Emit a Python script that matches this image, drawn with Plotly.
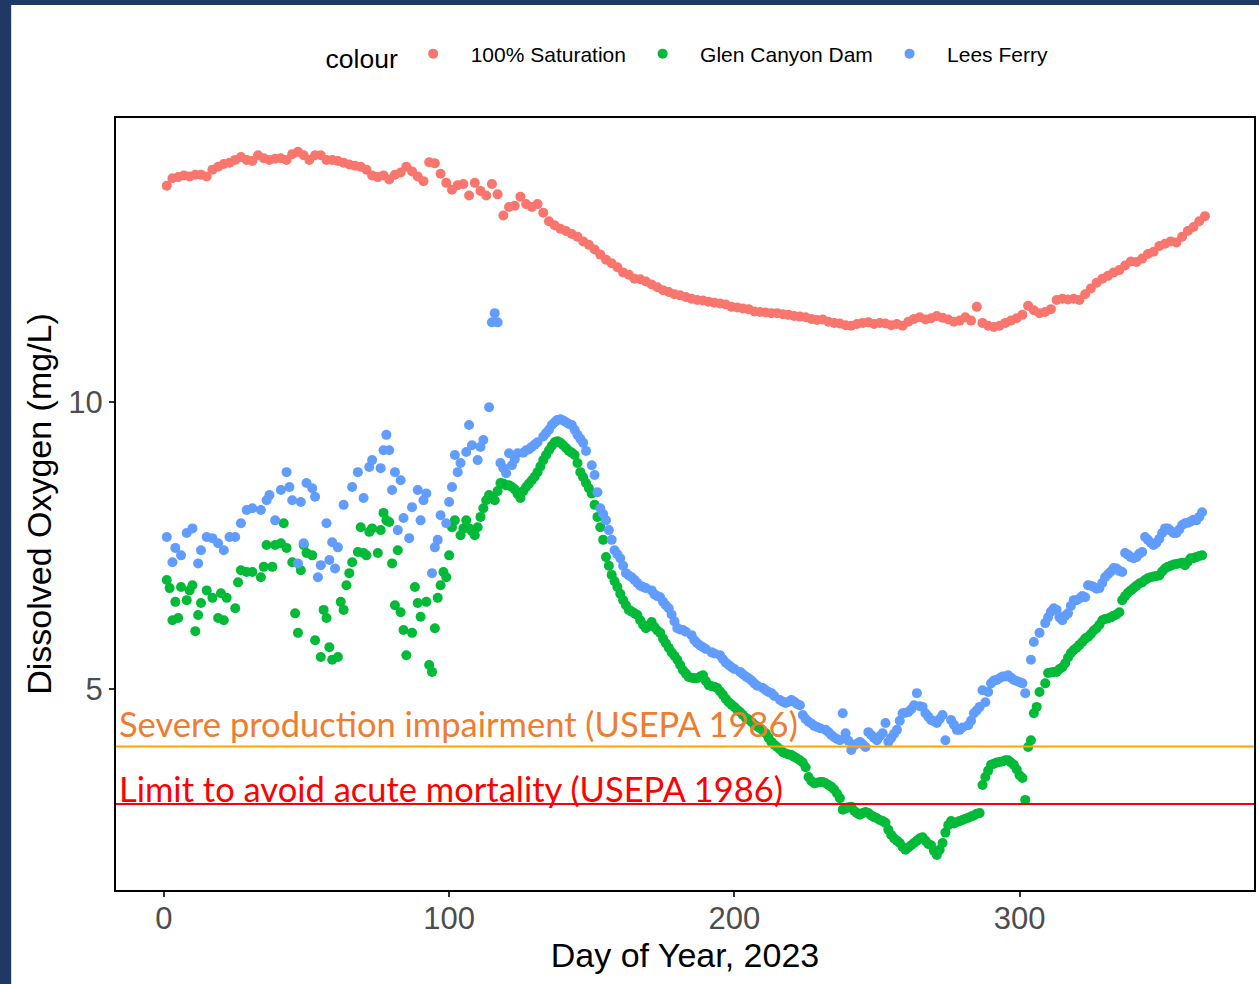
import plotly.graph_objects as go

# 100% saturation, every other day
sat_day = list(range(1, 366, 2))
sat_do = [
    13.77, 13.90, 13.92, 13.95, 13.93, 13.96, 13.96, 13.93, 14.05, 14.10,
    14.15, 14.17, 14.22, 14.27, 14.22, 14.20, 14.30, 14.25, 14.22, 14.24,
    14.25, 14.22, 14.32, 14.36, 14.30, 14.22, 14.30, 14.30, 14.22, 14.22,
    14.20, 14.17, 14.14, 14.12, 14.10, 14.05, 13.95, 13.92, 13.95, 13.88,
    13.96, 14.00, 14.10, 14.02, 13.93, 13.85, 14.18, 14.16, 13.98, 13.82,
    13.70, 13.78, 13.80, 13.60, 13.82, 13.68, 13.60, 13.80, 13.62, 13.25,
    13.40, 13.42, 13.58, 13.45, 13.40, 13.45, 13.30, 13.15, 13.08, 13.02,
    12.98, 12.93, 12.88, 12.80, 12.74, 12.66, 12.57, 12.48, 12.42, 12.35,
    12.26, 12.22, 12.15, 12.14, 12.10, 12.05, 12.00, 11.95, 11.92, 11.88,
    11.86, 11.83, 11.80, 11.78, 11.77, 11.75, 11.73, 11.72, 11.70, 11.66,
    11.65, 11.63, 11.62, 11.58, 11.57, 11.56, 11.55, 11.55, 11.53, 11.52,
    11.50, 11.49, 11.48, 11.45, 11.43, 11.44, 11.40, 11.38, 11.37, 11.34,
    11.33, 11.36, 11.38, 11.39, 11.36, 11.38, 11.37, 11.34, 11.36, 11.33,
    11.40, 11.45, 11.48, 11.44, 11.46, 11.50, 11.47, 11.44, 11.40, 11.42,
    11.48, 11.42, 11.66, 11.38, 11.33, 11.31, 11.33, 11.38, 11.42, 11.46,
    11.52, 11.68, 11.60, 11.55, 11.57, 11.62, 11.78, 11.80, 11.79, 11.80,
    11.78, 11.88, 11.98, 12.08, 12.15, 12.20, 12.26, 12.30, 12.38, 12.45,
    12.44, 12.50, 12.58, 12.62, 12.72, 12.76, 12.80, 12.78, 12.88, 12.98,
    13.05, 13.15, 13.24,
]

# Glen Canyon Dam
gcd_day = [
    1, 2, 3, 4, 5, 6, 8, 9, 10, 11, 12, 13, 15, 17, 19, 20, 21, 22, 25, 26,
    27, 29, 31, 34, 35, 36, 38, 39, 41, 42, 43, 45, 46, 47, 48, 49, 50, 52, 53, 55,
    56, 57, 58, 59, 61, 62, 63, 64, 65, 66, 68, 69, 70, 71, 72, 73, 75, 76, 77, 78,
    79, 80, 81, 82, 83, 84, 85, 87, 88, 89, 90, 92, 93, 94, 95, 96, 97, 98, 99, 100,
    101, 102, 104, 105, 106, 107, 108, 109, 110, 111, 112, 113, 114, 115, 116, 117, 118, 119, 120, 121,
    122, 123, 124, 125, 126, 127, 128, 129, 130, 131, 132, 133, 134, 135, 136, 137, 138, 139, 140, 141,
    142, 143, 144, 145, 146, 147, 148, 149, 150, 151, 152, 153, 154, 155, 156, 157, 158, 159, 160, 161,
    162, 163, 164, 165, 166, 167, 168, 169, 170, 171, 172, 173, 174, 175, 176, 177, 178, 179, 180, 181,
    182, 183, 184, 185, 186, 187, 188, 189, 190, 191, 192, 193, 194, 195, 196, 197, 198, 199, 200, 201,
    202, 203, 204, 205, 206, 207, 208, 209, 210, 211, 212, 213, 214, 215, 216, 217, 218, 219, 220, 221,
    222, 223, 224, 225, 226, 227, 228, 229, 230, 231, 232, 233, 234, 235, 236, 237, 238, 239, 240, 241,
    242, 243, 244, 245, 246, 247, 248, 249, 250, 251, 252, 253, 254, 255, 256, 257, 258, 259, 260, 261,
    262, 263, 264, 265, 266, 267, 268, 269, 270, 271, 272, 273, 274, 275, 276, 277, 278, 279, 280, 281,
    282, 283, 284, 285, 286, 287, 288, 289, 290, 291, 292, 293, 294, 295, 296, 297, 298, 299, 300, 301,
    302, 303, 304, 305, 306, 307, 309, 310, 311, 312, 313, 314, 315, 316, 317, 318, 319, 320, 321, 322,
    323, 324, 325, 326, 327, 328, 329, 330, 331, 332, 333, 334, 335, 336, 337, 338, 339, 340, 341, 342,
    343, 344, 345, 346, 347, 348, 349, 350, 351, 352, 353, 354, 355, 356, 357, 358, 359, 360, 361, 362,
    363, 364,
]
gcd_do = [
    6.90, 6.76, 6.20, 6.52, 6.24, 6.78, 6.55, 6.72, 6.81, 6.01, 6.29, 6.50, 6.72, 6.59, 6.24, 6.67, 6.20, 6.59, 6.41, 6.86,
    7.07, 7.04, 7.04, 6.95, 7.13, 7.51, 7.13, 7.51, 7.54, 7.89, 7.46, 7.21, 6.32, 5.98, 7.07, 7.51, 7.37, 7.33, 5.85, 5.56,
    6.38, 6.24, 5.73, 5.51, 5.56, 6.52, 6.38, 6.81, 7.02, 7.21, 7.39, 7.82, 7.37, 7.33, 7.74, 7.80, 7.37, 7.77, 8.07, 7.94,
    7.91, 7.19, 6.46, 7.42, 6.34, 6.03, 5.59, 5.98, 6.78, 6.50, 6.26, 6.52, 5.42, 5.30, 6.06, 6.59, 6.81, 7.04, 6.95, 7.33,
    7.82, 7.94, 7.68, 7.80, 7.94, 7.80, 7.75, 7.68, 7.82, 8.00, 8.15, 8.29, 8.38, 8.35, 8.29, 8.45, 8.59, 8.58, 8.55, 8.55,
    8.52, 8.48, 8.40, 8.33, 8.45, 8.52, 8.58, 8.64, 8.70, 8.78, 8.88, 8.99, 9.08, 9.16, 9.24, 9.30, 9.32, 9.29, 9.25, 9.20,
    9.15, 9.12, 9.08, 8.94, 8.78, 8.69, 8.59, 8.50, 8.41, 8.21, 8.00, 7.82, 7.60, 7.30, 7.15, 6.99, 6.88, 6.78, 6.66, 6.55,
    6.46, 6.38, 6.35, 6.32, 6.29, 6.20, 6.12, 6.06, 6.10, 6.17, 6.08, 6.02, 5.98, 5.88, 5.80, 5.72, 5.64, 5.58, 5.51, 5.42,
    5.33, 5.27, 5.21, 5.20, 5.19, 5.19, 5.22, 5.24, 5.14, 5.07, 5.05, 5.04, 5.02, 4.96, 4.90, 4.83, 4.77, 4.73, 4.69, 4.64,
    4.60, 4.55, 4.50, 4.47, 4.43, 4.38, 4.35, 4.32, 4.28, 4.23, 4.15, 4.08, 4.03, 3.99, 3.95, 3.90, 3.88, 3.86, 3.85, 3.82,
    3.79, 3.76, 3.72, 3.64, 3.47, 3.40, 3.36, 3.37, 3.38, 3.38, 3.36, 3.33, 3.30, 3.25, 3.18, 3.10, 2.90, 2.92, 2.94, 2.95,
    2.88, 2.84, 2.81, 2.84, 2.86, 2.84, 2.80, 2.77, 2.75, 2.72, 2.70, 2.67, 2.55, 2.46, 2.40, 2.36, 2.32, 2.25, 2.20, 2.24,
    2.28, 2.32, 2.36, 2.40, 2.42, 2.36, 2.30, 2.28, 2.18, 2.11, 2.20, 2.32, 2.50, 2.63, 2.70, 2.66, 2.68, 2.70, 2.72, 2.74,
    2.76, 2.78, 2.80, 2.83, 2.84, 3.33, 3.47, 3.58, 3.68, 3.70, 3.72, 3.73, 3.74, 3.76, 3.76, 3.72, 3.68, 3.60, 3.50, 3.45,
    3.07, 3.99, 4.11, 4.58, 4.69, 4.95, 5.10, 5.28, 5.29, 5.30, 5.30, 5.35, 5.38, 5.45, 5.55, 5.63, 5.68, 5.72, 5.77, 5.82,
    5.88, 5.91, 5.96, 6.02, 6.06, 6.12, 6.20, 6.22, 6.23, 6.25, 6.28, 6.30, 6.34, 6.55, 6.62, 6.68, 6.72, 6.76, 6.80, 6.84,
    6.86, 6.90, 6.93, 6.95, 6.96, 6.97, 6.98, 7.05, 7.10, 7.13, 7.15, 7.17, 7.18, 7.19, 7.20, 7.16, 7.22, 7.28, 7.28, 7.30,
    7.32, 7.33,
]

# Lees Ferry
lf_day = [
    1, 3, 4, 6, 8, 10, 12, 13, 15, 17, 19, 21, 23, 25, 27, 29, 31, 34, 36, 37,
    39, 41, 43, 44, 45, 47, 48, 49, 50, 52, 53, 54, 55, 57, 58, 59, 60, 61, 63, 66,
    68, 70, 72, 73, 76, 77, 78, 79, 80, 81, 82, 83, 84, 86, 87, 89, 90, 91, 92, 94,
    95, 96, 97, 99, 100, 101, 102, 103, 104, 106, 107, 108, 110, 111, 112, 114, 115, 116, 117, 118,
    119, 120, 121, 122, 123, 124, 126, 127, 128, 129, 130, 131, 133, 134, 135, 136, 137, 138, 139, 140,
    141, 142, 143, 144, 145, 146, 147, 148, 150, 151, 152, 153, 154, 155, 156, 157, 158, 159, 160, 161,
    162, 163, 164, 165, 166, 167, 168, 169, 171, 172, 173, 174, 175, 176, 177, 178, 179, 180, 181, 182,
    183, 185, 186, 187, 188, 189, 190, 192, 193, 195, 196, 197, 198, 199, 200, 202, 203, 204, 205, 206,
    207, 208, 210, 211, 212, 213, 214, 216, 217, 218, 219, 220, 221, 222, 223, 224, 225, 226, 227, 228,
    229, 230, 232, 233, 234, 235, 236, 237, 238, 239, 240, 241, 242, 243, 244, 245, 246, 247, 248, 249,
    250, 251, 252, 253, 254, 255, 256, 257, 258, 259, 260, 261, 262, 263, 264, 265, 266, 267, 268, 269,
    270, 271, 272, 273, 274, 276, 277, 278, 279, 280, 282, 283, 284, 285, 286, 287, 288, 289, 290, 291,
    292, 293, 294, 295, 296, 297, 298, 299, 300, 301, 302, 304, 305, 307, 309, 310, 311, 312, 313, 314,
    315, 316, 317, 318, 319, 320, 321, 322, 323, 324, 325, 326, 327, 328, 329, 330, 331, 332, 333, 334,
    335, 336, 337, 338, 339, 340, 341, 342, 343, 344, 345, 346, 347, 348, 349, 350, 351, 352, 353, 354,
    355, 356, 357, 358, 359, 360, 361, 362, 363, 364,
]
lf_do = [
    7.65, 7.21, 7.46, 7.33, 7.72, 7.80, 7.19, 7.42, 7.65, 7.63, 7.54, 7.42, 7.65, 7.65, 7.89, 8.12, 8.15, 8.12, 8.29, 8.38,
    7.94, 8.47, 8.78, 8.52, 8.29, 7.19, 8.26, 7.54, 8.59, 8.50, 8.35, 6.95, 7.16, 7.89, 7.25, 7.56, 7.10, 7.47, 8.21, 8.52,
    8.78, 8.33, 8.87, 8.99, 8.85, 9.16, 9.43, 9.16, 8.47, 8.78, 7.77, 8.64, 7.98, 7.63, 8.17, 8.47, 7.94, 8.29, 8.41, 7.02,
    7.47, 7.60, 8.03, 7.89, 8.26, 8.52, 9.08, 8.78, 8.94, 9.13, 9.60, 9.25, 8.99, 9.22, 9.34, 9.91, 11.39, 11.55, 11.39, 8.94,
    8.85, 8.76, 9.11, 8.90, 9.00, 9.11, 9.12, 9.16, 9.18, 9.22, 9.26, 9.30, 9.40, 9.46, 9.52, 9.60, 9.65, 9.69, 9.70, 9.68,
    9.65, 9.62, 9.60, 9.52, 9.43, 9.36, 9.29, 9.15, 8.90, 8.73, 8.43, 8.15, 8.05, 7.94, 7.77, 7.60, 7.42, 7.35, 7.28, 7.15,
    7.02, 6.98, 6.95, 6.90, 6.85, 6.80, 6.78, 6.76, 6.72, 6.65, 6.62, 6.60, 6.52, 6.46, 6.41, 6.30, 6.18, 6.06, 6.04, 6.03,
    6.00, 5.94, 5.85, 5.80, 5.76, 5.73, 5.70, 5.64, 5.62, 5.59, 5.52, 5.46, 5.42, 5.38, 5.35, 5.30, 5.26, 5.22, 5.19, 5.15,
    5.10, 5.06, 5.02, 4.98, 4.95, 4.93, 4.88, 4.81, 4.78, 4.76, 4.78, 4.81, 4.78, 4.74, 4.72, 4.55, 4.48, 4.43, 4.40, 4.36,
    4.34, 4.32, 4.29, 4.25, 4.20, 4.16, 4.13, 4.11, 4.58, 4.23, 4.10, 3.94, 4.02, 4.05, 4.08, 4.04, 3.99, 4.25, 4.20, 4.15,
    4.11, 4.18, 4.23, 4.41, 4.08, 4.15, 4.22, 4.29, 4.45, 4.58, 4.59, 4.60, 4.65, 4.72, 4.93, 4.70, 4.69, 4.58, 4.52, 4.46,
    4.44, 4.41, 4.48, 4.55, 4.11, 4.46, 4.38, 4.29, 4.29, 4.33, 4.37, 4.45, 4.58, 4.63, 4.69, 4.98, 4.77, 4.95, 5.10, 5.15,
    5.16, 5.19, 5.22, 5.22, 5.24, 5.20, 5.16, 5.14, 5.12, 5.10, 4.93, 5.51, 5.82, 5.98, 6.15, 6.25, 6.35, 6.41, 6.38, 6.25,
    6.20, 6.28, 6.32, 6.45, 6.55, 6.55, 6.58, 6.62, 6.60, 6.81, 6.80, 6.78, 6.75, 6.76, 6.85, 6.95, 7.00, 7.05, 7.11, 7.10,
    7.06, 7.04, 7.37, 7.34, 7.30, 7.28, 7.30, 7.36, 7.39, 7.65, 7.60, 7.55, 7.51, 7.55, 7.62, 7.72, 7.80, 7.80, 7.76, 7.72,
    7.72, 7.78, 7.86, 7.89, 7.90, 7.92, 7.95, 7.94, 8.00, 8.08,
]

# reference limits (mg/L)
severe_limit = 4.0
acute_limit = 3.0

NB = "\u00a0"

fig = go.Figure()
for name, xs, ys, col in [
    ("100% Saturation", sat_day, sat_do, "#F8766D"),
    ("Glen Canyon Dam", gcd_day, gcd_do, "#00BA38"),
    ("Lees Ferry", lf_day, lf_do, "#619CFF"),
]:
    fig.add_trace(go.Scatter(x=xs, y=ys, mode="markers", name=NB * 3 + name + NB * 2,
                             marker=dict(color=col, size=10, line=dict(width=0))))

# white page inside the navy frame
fig.add_shape(type="rect", xref="paper", yref="paper", x0=-0.0921, x1=1.2,
              y0=-0.3, y1=1.1464, fillcolor="white", line_width=0, layer="below")

fig.add_hline(y=severe_limit, line=dict(color="#FFA500", width=2))
fig.add_hline(y=acute_limit, line=dict(color="#FF0000", width=2))

fig.add_annotation(text="Severe production impairment (USEPA 1986)", xref="paper", x=0.0,
                   xanchor="left", xshift=1, yref="y", y=4.40, yanchor="middle", showarrow=False,
                   font=dict(family="Lato", size=34.5, color="#ED7D31"))
fig.add_annotation(text="Limit to avoid acute mortality (USEPA 1986)", xref="paper", x=0.0,
                   xanchor="left", xshift=1, yref="y", y=3.26, yanchor="middle", showarrow=False,
                   font=dict(family="Lato", size=34.5, color="#FF0000"))

axis_common = dict(showgrid=False, zeroline=False, showline=True, mirror=True,
                   linecolor="black", linewidth=2, ticks="outside", ticklen=5,
                   tickwidth=2, tickcolor="#333333",
                   tickfont=dict(size=31, color="#4D4D4D"))

fig.update_xaxes(range=[-16.8, 382.2], tickvals=[0, 100, 200, 300], ticklabelstandoff=-5,
                 title=dict(text="Day of Year, 2023", font=dict(size=34, color="black"), standoff=6),
                 **axis_common)
fig.update_yaxes(range=[1.5, 14.95], tickvals=[5, 10],
                 title=dict(text="Dissolved Oxygen (mg/L)", font=dict(size=34, color="black"), standoff=6),
                 **axis_common)

fig.update_layout(
    width=1259, height=984,
    margin=dict(l=116, r=3, t=118, b=94),
    paper_bgcolor="#1F3864", plot_bgcolor="white",
    font=dict(family="Liberation Sans, Arial, sans-serif", color="black"),
    legend=dict(orientation="h", x=0.508, xanchor="center", y=1.0803, yanchor="middle",
                title=dict(text="colour" + NB, font=dict(size=26.5)),
                font=dict(size=21), bgcolor="rgba(0,0,0,0)"),
)

fig.write_html("out.html", config={"displayModeBar": False},
               post_script="document.body.style.margin='0';")
